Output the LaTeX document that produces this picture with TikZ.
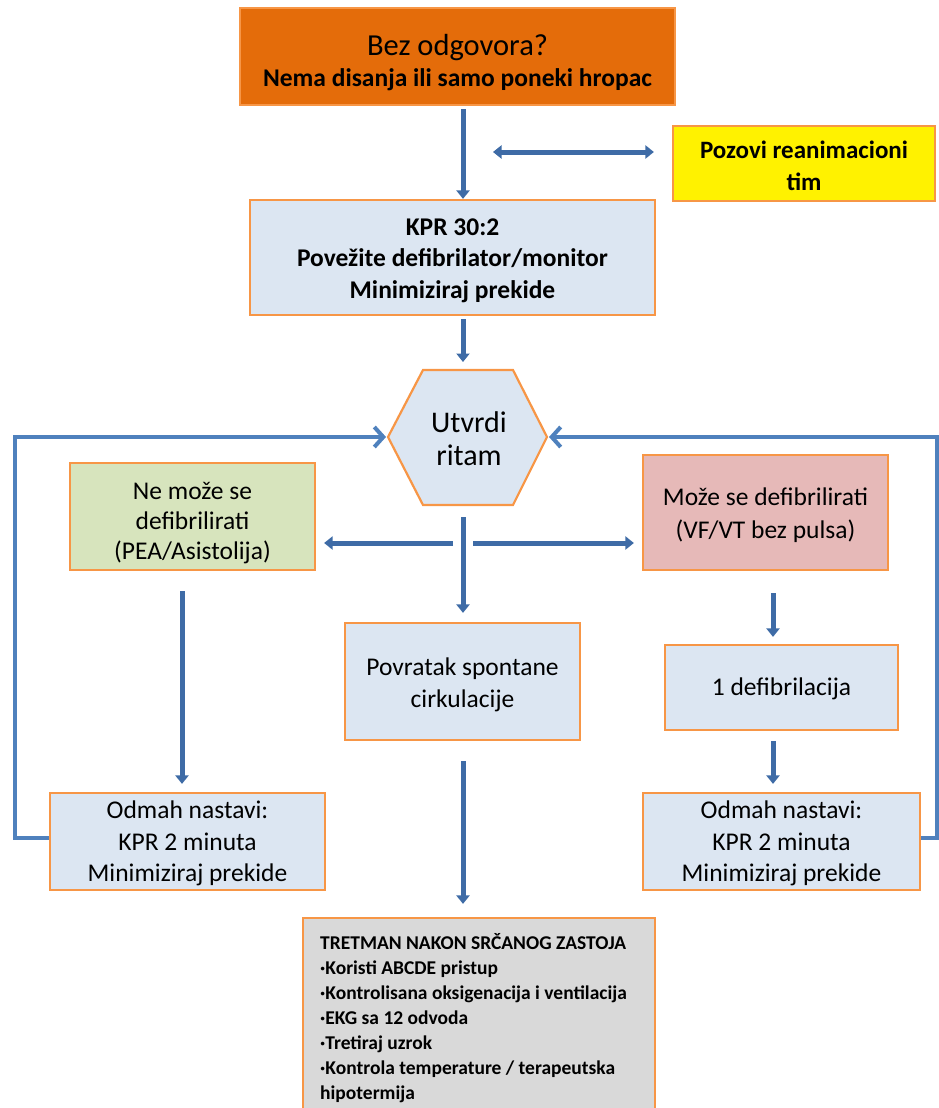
\documentclass[tikz,border=0pt]{standalone}
\usepackage{fontspec}
\setmainfont{Carlito}
\usetikzlibrary{arrows.meta}
\definecolor{arrblue}{RGB}{62,107,166}
\definecolor{loopblue}{RGB}{79,129,189}
\definecolor{boxedge}{RGB}{247,150,70}
\definecolor{topfill}{RGB}{228,108,10}
\definecolor{bluefill}{RGB}{220,230,242}
\definecolor{greenfill}{RGB}{215,228,189}
\definecolor{pinkfill}{RGB}{230,185,184}
\definecolor{greyfill}{RGB}{217,217,217}
\tikzset{
  box/.style={draw=boxedge, line width=2.2pt, inner sep=0pt},
  txt/.style={align=center, inner sep=0pt, font=\fontsize{25.5}{31.5}\selectfont},
  arr/.style={draw=arrblue, line width=5pt, -{Triangle[width=13pt,length=8.5pt]}},
  darr/.style={draw=arrblue, line width=5pt, {Triangle[width=13pt,length=8.5pt]}-{Triangle[width=13pt,length=8.5pt]}},
  loop/.style={draw=loopblue, line width=4pt, -{Straight Barb[width=20pt,length=9pt]}},
}
\begin{document}
\begin{tikzpicture}[x=1pt,y=-1pt]
\useasboundingbox (0,0) rectangle (939,1108);
% boxes
\node[box, fill=topfill, minimum width=435pt, minimum height=97pt] (top) at (457.5,56.5) {};
\node[txt] (topT) at ([yshift=-6pt]top.center)
  {\fontsize{30.5}{36}\selectfont Bez odgovora?\\ \fontsize{25.5}{36}\selectfont\bfseries Nema disanja ili samo poneki hropac};
\node[box, fill=yellow, minimum width=262pt, minimum height=75pt] (pozovi) at (804,163.5) {};
\node[txt, font=\fontsize{25}{32}\selectfont\bfseries] (pozoviT) at ([yshift=-2.5pt]pozovi.center)
  {Pozovi reanimacioni\\tim};
\node[box, fill=bluefill, minimum width=405pt, minimum height=115pt] (kpr) at (452.5,257.5) {};
\node[txt, font=\fontsize{25.5}{31.5}\selectfont\bfseries] (kprT) at ([yshift=-3pt]kpr.center)
  {KPR 30:2\\Povežite defibrilator/monitor\\Minimiziraj prekide};
% hexagon
\coordinate (hexL) at (388,437);
\coordinate (hexR) at (547,437);
\coordinate (hexT) at (463,370);
\filldraw[draw=boxedge, fill=bluefill, line width=2.2pt]
  (hexL) -- (423,370) -- (513,370) -- (hexR) -- (513,505) -- (423,505) -- cycle;
\node[txt, font=\fontsize{30}{33}\selectfont] (hex) at (469,439) {Utvrdi\\ritam};
\node[box, fill=greenfill, minimum width=245pt, minimum height=107pt] (green) at (192.5,516.5) {};
\node[txt, font=\fontsize{25.5}{30}\selectfont] (greenT) at ([yshift=-7pt]green.center)
  {Ne može se\\defibrilirati\\(PEA/Asistolija)};
\node[box, fill=pinkfill, minimum width=245pt, minimum height=115pt] (pink) at (765.5,512.5) {};
\node[txt, font=\fontsize{25.5}{33}\selectfont] (pinkT) at ([yshift=-2.5pt]pink.center)
  {Može se defibrilirati\\(VF/VT bez pulsa)};
\node[box, fill=bluefill, minimum width=235pt, minimum height=117pt] (povr) at (462.5,681.5) {};
\node[txt] (povrT) at ([yshift=-3.5pt]povr.center) {Povratak spontane\\cirkulacije};
\node[box, fill=bluefill, minimum width=233pt, minimum height=85pt] (defib) at (781.5,687.5) {};
\node[txt] (defibT) at ([yshift=-1pt]defib.center) {1 defibrilacija};
\node[box, fill=bluefill, minimum width=275pt, minimum height=97pt] (odmahL) at (187.5,841.5) {};
\node[txt] (odmahLT) at ([yshift=-2pt]odmahL.center) {Odmah nastavi:\\KPR 2 minuta\\Minimiziraj prekide};
\node[box, fill=bluefill, minimum width=277pt, minimum height=97pt] (odmahR) at (781.5,841.5) {};
\node[txt] (odmahRT) at ([yshift=-2pt]odmahR.center) {Odmah nastavi:\\KPR 2 minuta\\Minimiziraj prekide};
\node[box, fill=greyfill, minimum width=352pt, minimum height=200pt] (tret) at (479,1018) {};
\node[anchor=north west, align=left, inner sep=0pt, font=\fontsize{19.5}{25}\selectfont\bfseries] (tretT) at (320,933)
  {TRETMAN NAKON SRČANOG ZASTOJA\\
   ·Koristi ABCDE pristup\\
   ·Kontrolisana oksigenacija i ventilacija\\
   ·EKG sa 12 odvoda\\
   ·Tretiraj uzrok\\
   ·Kontrola temperature / terapeutska\\
   hipotermija};
% connectors
\draw[arr] ([xshift=5.5pt,yshift=-3pt]top.south) -- ([xshift=10.5pt]kpr.north);
\coordinate (dl) at (493,152);
\draw[darr] (dl) -- ([xshift=-18pt,yshift=11.5pt]pozovi.west);
\draw[arr] ([xshift=10.5pt,yshift=-3pt]kpr.south) -- ([yshift=8pt]hexT);
\coordinate (hb) at (463,517);
\coordinate (hlA) at (453,543);
\coordinate (hrA) at (473,543);
\draw[arr] (hb) -- ([xshift=0.5pt,yshift=9pt]povr.north);
\draw[arr] (hlA) -- ([xshift=8pt,yshift=-26.5pt]green.east);
\draw[arr] (hrA) -- ([xshift=-8pt,yshift=-30.5pt]pink.west);
\draw[arr] ([xshift=-10.5pt,yshift=-20pt]green.south) -- ([xshift=-5.5pt,yshift=8pt]odmahL.north);
\draw[arr] ([xshift=7.5pt,yshift=-22pt]pink.south) -- ([xshift=-8.5pt,yshift=7pt]defib.north);
\draw[arr] ([xshift=-8.5pt,yshift=-10pt]defib.south) -- ([xshift=-8.5pt,yshift=8pt]odmahR.north);
\draw[arr] ([xshift=0.5pt,yshift=-20pt]povr.south) -- ([xshift=-16pt,yshift=13pt]tret.north);
% loops
\coordinate (lc) at (15,437);
\coordinate (rc) at (937,437);
\draw[loop, line join=miter] ([yshift=3.5pt]odmahL.west) -| (lc) -- ([xshift=-2pt]hexL);
\draw[loop, line join=miter] ([yshift=3.5pt]odmahR.east) -| (rc) -- ([xshift=2pt]hexR);
\end{tikzpicture}
\end{document}
